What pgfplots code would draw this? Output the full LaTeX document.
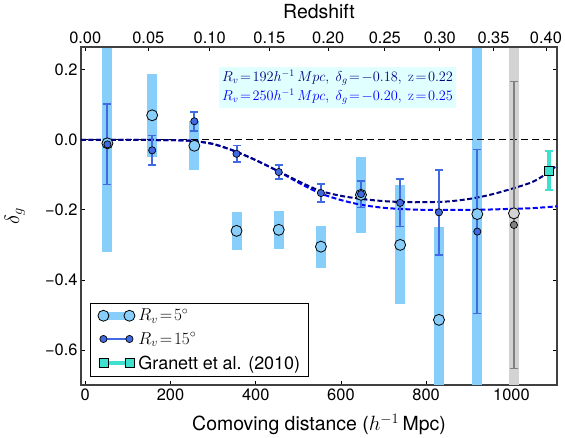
\documentclass[border=0pt]{standalone}
\usepackage{fontspec}
\setmainfont{TeX Gyre Heros}
\newfontfamily\lmr{Latin Modern Roman}
\usepackage{pgfplots}
\pgfplotsset{compat=1.18}
\usepackage{pgfplotstable}

\definecolor{lsb}{HTML}{87CEFA}
\definecolor{rblue}{HTML}{4169E1}
\definecolor{lgray}{HTML}{D3D3D3}
\definecolor{mgray}{HTML}{808080}
\definecolor{turq}{HTML}{40E0D0}
\definecolor{lcyan}{HTML}{E0FFFF}
\definecolor{navyc}{HTML}{000080}
\definecolor{bluec}{HTML}{0000FF}
\definecolor{spine}{HTML}{404040}

% R_v = 5 deg: centre and half-length of the light bar
\pgfplotstableread{
x y e
52 -0.010 0.31
157 0.070 0.118
256 -0.017 0.07
355 -0.260 0.055
454 -0.257 0.055
553 -0.305 0.06
647 -0.157 0.108
739 -0.300 0.17
830 -0.514 0.266
920 -0.212 0.60
}\rvfive

% R_v = 15 deg
\pgfplotstableread{
x y e
52 -0.013 0.115
157 -0.030 0.042
256 0.053 0.027
355 -0.040 0.024
454 -0.092 0.020
553 -0.152 0.025
647 -0.155 0.038
739 -0.180 0.068
830 -0.207 0.121
920 -0.262 0.234
}\rvfifteen

\begin{document}
\begin{tikzpicture}
\pgfplotsset{
  every axis/.append style={
    scale only axis, width=476bp, height=338bp,
    xmin=-10, xmax=1107, ymin=-0.7, ymax=0.265,
    axis line style={spine, line width=1.3bp},
    tick style={black, line width=0.8bp},
    major tick length=4bp,
    tick align=inside,
    ticklabel style={font=\fontsize{16.5}{18}\selectfont},
  },
}
\begin{axis}[
  xtick pos=bottom, ytick pos=both,
  xtick={0,200,400,600,800,1000},
  xticklabels={0,200,400,600,800,1000},
  ytick={-0.6,-0.4,-0.2,0,0.2},
  yticklabels={−0.6,−0.4,−0.2,0.0,0.2},
  minor tick num=0,
  xlabel={Comoving distance ($h^{-1}\,$Mpc)},
  xlabel style={font=\fontsize{19.5}{22}\selectfont, at={(axis description cs:0.5,-0.135)}, anchor=base},
  ylabel={$\delta_g$},
  ylabel style={font=\fontsize{21}{22}\selectfont, at={(axis description cs:-0.139,0.5)}, anchor=center},
  legend style={at={(axis description cs:0.019,0.024)}, anchor=south west,
    draw=black, line width=0.8bp, fill=white,
    font=\fontsize{18}{20}\selectfont, row sep=6bp, inner xsep=6bp, inner ysep=4bp},
  legend cell align=left,
]
% light bars
\addplot[draw=none, mark=none, forget plot,
  error bars/.cd, y dir=both, y explicit, error mark=none,
  error bar style={draw=lsb, line width=10bp}]
  table[x=x, y=y, y error=e] {\rvfive};
\addplot[draw=none, mark=none, forget plot,
  error bars/.cd, y dir=both, y explicit, error mark=none,
  error bar style={draw=lgray, line width=10bp}]
  coordinates {(1006,-0.21) +- (0,0.6)};
% zero line
\addplot[black, line width=1.1bp, dash pattern=on 7bp off 4bp, forget plot]
  coordinates {(-10,0) (1107,0)};
% models
\addplot[bluec, line width=2bp, dash pattern=on 5bp off 2.5bp, smooth, forget plot]
  coordinates {(-10,0) (100,0) (200,-0.001) (250,-0.003) (300,-0.012) (350,-0.032)
  (400,-0.058) (450,-0.088) (500,-0.122) (550,-0.152) (600,-0.172) (650,-0.186)
  (700,-0.194) (750,-0.198) (800,-0.2) (850,-0.2) (900,-0.2) (950,-0.199)
  (1000,-0.197) (1050,-0.195) (1107,-0.19)};
\addplot[navyc, line width=2bp, dash pattern=on 5bp off 2.5bp, smooth, forget plot]
  coordinates {(-10,0) (100,0) (200,-0.001) (250,-0.003) (300,-0.012) (350,-0.032)
  (400,-0.058) (450,-0.088) (500,-0.118) (550,-0.145) (600,-0.16) (650,-0.169)
  (700,-0.175) (750,-0.178) (800,-0.178) (850,-0.176) (900,-0.169) (950,-0.157)
  (1000,-0.14) (1050,-0.12) (1088,-0.092) (1107,-0.072)};
% R_v = 15 error bars
\addplot[draw=none, mark=none, forget plot,
  error bars/.cd, y dir=both, y explicit, error mark=-,
  error bar style={draw=rblue, line width=2bp},
  error mark options={rotate=90, draw=rblue, mark size=4bp, line width=1.6bp}]
  table[x=x, y=y, y error=e] {\rvfifteen};
\addplot[draw=none, mark=none, forget plot,
  error bars/.cd, y dir=both, y explicit, error mark=-,
  error bar style={draw=mgray, line width=2bp},
  error mark options={rotate=90, draw=mgray, mark size=4bp, line width=1.6bp}]
  coordinates {(1006,-0.243) +- (0,0.41)};
% Granett
\addplot[draw=none, mark=none, forget plot,
  error bars/.cd, y dir=both, y explicit, error mark=-,
  error bar style={draw=turq, line width=4bp},
  error mark options={rotate=90, draw=turq, mark size=4bp, line width=2bp}]
  coordinates {(1088,-0.088) +- (0,0.055)};
% circles
\addplot[only marks, mark=*, mark size=5.5bp, forget plot,
  mark options={fill=lsb, draw=black, line width=0.8bp}]
  table[x=x, y=y] {\rvfive};
\addplot[only marks, mark=*, mark size=5.5bp, forget plot,
  mark options={fill=lgray, draw=black, line width=0.8bp}]
  coordinates {(1006,-0.21)};
% dots
\addplot[only marks, mark=*, mark size=3.6bp, forget plot,
  mark options={fill=rblue, draw=black, line width=0.7bp}]
  table[x=x, y=y] {\rvfifteen};
\addplot[only marks, mark=*, mark size=3.6bp, forget plot,
  mark options={fill=mgray, draw=black, line width=0.7bp}]
  coordinates {(1006,-0.243)};
\addplot[only marks, mark=square*, mark size=4.5bp, forget plot,
  mark options={fill=turq, draw=black, line width=0.8bp}]
  coordinates {(1088,-0.088)};

\node[fill=lcyan, inner sep=3bp, align=left, font=\fontsize{14.3}{19}\selectfont]
  at (axis cs:592,0.15)
  {\textcolor{navyc}{$R_v\!=\!192h^{-1}\,Mpc,\;\delta_g\!=\!-0.18,\;\hbox{\lmr z}\!=\!0.22$}\\
   \textcolor{bluec}{$R_v\!=\!250h^{-1}\,Mpc,\;\delta_g\!=\!-0.20,\;\hbox{\lmr z}\!=\!0.25$}};

% legend
\addlegendimage{legend image code/.code={
  \draw[line width=8bp, lsb] (0bp,0bp) -- (32bp,0bp);
  \draw[black, fill=lsb, line width=0.8bp] (3bp,0bp) circle[radius=5.5bp] (29bp,0bp) circle[radius=5.5bp];}}
\addlegendentry{$R_v\!=\!5^\circ$}
\addlegendimage{legend image code/.code={
  \draw[line width=1.5bp, rblue] (0bp,0bp) -- (32bp,0bp);
  \draw[black, fill=rblue, line width=0.7bp] (3bp,0bp) circle[radius=3.6bp] (29bp,0bp) circle[radius=3.6bp];}}
\addlegendentry{$R_v\!=\!15^\circ$}
\addlegendimage{legend image code/.code={
  \draw[line width=4bp, turq] (0bp,0bp) -- (32bp,0bp);
  \draw[black, fill=turq, line width=0.8bp] (-1.5bp,-4.5bp) rectangle (7.5bp,4.5bp) (24.5bp,-4.5bp) rectangle (33.5bp,4.5bp);}}
\addlegendentry{Granett et al. (2010)}
\end{axis}

\begin{axis}[
  axis x line*=top, axis y line=none,
  xtick={0,148,292,432,570,703,832,958,1081},
  xticklabels={0.00,0.05,0.10,0.15,0.20,0.25,0.30,0.35,0.40},
  xlabel={Redshift},
  xlabel style={font=\fontsize{19.5}{22}\selectfont, at={(axis description cs:0.5,1.105)}, anchor=center},
]
\addplot[draw=none, forget plot] coordinates {(0,0)};
\end{axis}
\pgfresetboundingbox
\path (-81bp,-53bp) rectangle (484bp,385bp);
\end{tikzpicture}
\end{document}
